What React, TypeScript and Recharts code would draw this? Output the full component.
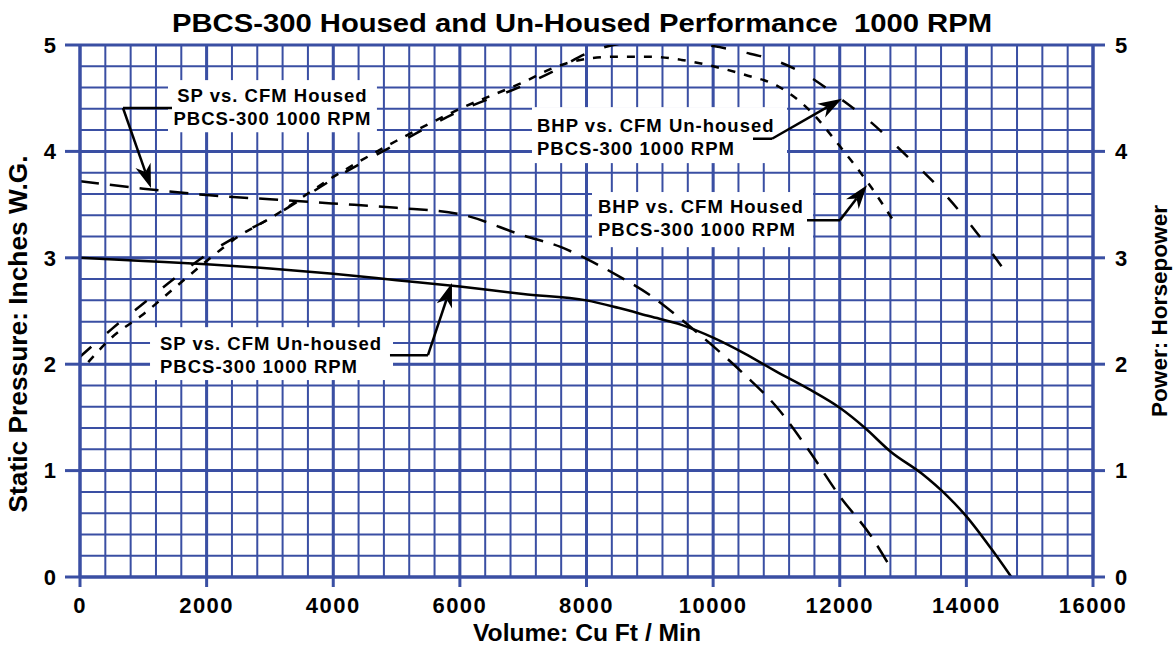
import React from 'react';
import { LineChart, Line, XAxis, YAxis, CartesianGrid, ReferenceArea, ReferenceLine } from 'recharts';

const BLUE = '#3a4fa3';
const FONT = '"Liberation Sans", Arial, Helvetica, sans-serif';

// Tick values
const xTicks = [0, 2000, 4000, 6000, 8000, 10000, 12000, 14000, 16000];
const yTicks = [0, 1, 2, 3, 4, 5];
const xMinor = [0, 400, 800, 1200, 1600, 2000, 2400, 2800, 3200, 3600, 4000, 4400, 4800, 5200, 5600, 6000, 6400, 6800, 7200, 7600, 8000, 8400, 8800, 9200, 9600, 10000, 10400, 10800, 11200, 11600, 12000, 12400, 12800, 13200, 13600, 14000, 14400, 14800, 15200, 15600, 16000];
const yMinor = [0, 0.2, 0.4, 0.6, 0.8, 1, 1.2, 1.4, 1.6, 1.8, 2, 2.2, 2.4, 2.6, 2.8, 3, 3.2, 3.4, 3.6, 3.8, 4, 4.2, 4.4, 4.6, 4.8, 5];

// SP vs CFM Un-housed (solid)
const spUnhoused = [
  { x: 0, y: 3.0 }, { x: 1000, y: 2.97 }, { x: 2000, y: 2.94 }, { x: 3000, y: 2.9 },
  { x: 4000, y: 2.85 }, { x: 5000, y: 2.79 }, { x: 6000, y: 2.73 }, { x: 7000, y: 2.66 },
  { x: 8000, y: 2.6 }, { x: 8500, y: 2.53 }, { x: 9000, y: 2.45 }, { x: 9500, y: 2.37 },
  { x: 10000, y: 2.25 }, { x: 10500, y: 2.1 }, { x: 11000, y: 1.93 }, { x: 11500, y: 1.77 },
  { x: 12000, y: 1.59 }, { x: 12400, y: 1.4 }, { x: 12800, y: 1.18 }, { x: 13300, y: 0.97 },
  { x: 13700, y: 0.76 }, { x: 14000, y: 0.57 }, { x: 14400, y: 0.26 }, { x: 14710, y: 0 },
];

// SP vs CFM Housed (long dash)
const spHoused = [
  { x: 0, y: 3.72 }, { x: 1000, y: 3.65 }, { x: 2000, y: 3.59 }, { x: 3000, y: 3.55 },
  { x: 4000, y: 3.51 }, { x: 5000, y: 3.47 }, { x: 6000, y: 3.41 }, { x: 7000, y: 3.21 },
  { x: 7600, y: 3.1 }, { x: 8000, y: 2.99 }, { x: 8500, y: 2.83 }, { x: 9000, y: 2.65 },
  { x: 9500, y: 2.42 }, { x: 10000, y: 2.17 }, { x: 10500, y: 1.9 }, { x: 11000, y: 1.6 },
  { x: 11500, y: 1.2 }, { x: 12000, y: 0.76 }, { x: 12500, y: 0.38 }, { x: 12840, y: 0.05 },
];

// BHP vs CFM Un-housed (long dash)
const bhpUnhoused = [
  { x: 0, y: 2.07 }, { x: 500, y: 2.33 }, { x: 1000, y: 2.57 }, { x: 1500, y: 2.81 },
  { x: 2000, y: 3.03 }, { x: 2500, y: 3.21 }, { x: 3000, y: 3.37 }, { x: 4000, y: 3.74 },
  { x: 5000, y: 4.07 }, { x: 6000, y: 4.38 }, { x: 7000, y: 4.62 }, { x: 7500, y: 4.76 },
  { x: 8000, y: 4.92 }, { x: 8500, y: 5.01 }, { x: 9000, y: 5.04 }, { x: 9500, y: 5.03 },
  { x: 10000, y: 4.99 }, { x: 10500, y: 4.93 }, { x: 11000, y: 4.85 }, { x: 11500, y: 4.71 },
  { x: 12000, y: 4.5 }, { x: 12500, y: 4.27 }, { x: 13000, y: 3.99 }, { x: 13500, y: 3.7 },
  { x: 14000, y: 3.36 }, { x: 14580, y: 2.9 },
];

// BHP vs CFM Housed (short dash)
const bhpHoused = [
  { x: 130, y: 2.02 }, { x: 500, y: 2.25 }, { x: 1000, y: 2.47 }, { x: 1500, y: 2.72 },
  { x: 2000, y: 2.97 }, { x: 2500, y: 3.2 }, { x: 3000, y: 3.37 }, { x: 4000, y: 3.76 },
  { x: 5000, y: 4.1 }, { x: 6000, y: 4.4 }, { x: 7000, y: 4.65 }, { x: 7500, y: 4.79 },
  { x: 8000, y: 4.87 }, { x: 8500, y: 4.89 }, { x: 9000, y: 4.89 }, { x: 9500, y: 4.86 },
  { x: 10000, y: 4.8 }, { x: 10500, y: 4.72 }, { x: 11000, y: 4.62 }, { x: 11500, y: 4.4 },
  { x: 12000, y: 4.05 }, { x: 12500, y: 3.66 }, { x: 12900, y: 3.3 },
];

// Annotation boxes (data coordinates)
const boxes = [
  { x1: 1390, x2: 4690, y1: 4.18, y2: 4.67, lines: ['SP vs. CFM Housed', 'PBCS-300 1000 RPM'], anchor: 'middle', padX: 0, base: 22 },
  { x1: 7139, x2: 11167, y1: 3.89, y2: 4.416, lines: ['BHP vs. CFM Un-housed', 'PBCS-300 1000 RPM'], anchor: 'start', padX: 5, base: 25 },
  { x1: 8087, x2: 11578, y1: 3.1, y2: 3.618, lines: ['BHP vs. CFM Housed', 'PBCS-300 1000 RPM'], anchor: 'start', padX: 6, base: 21 },
  { x1: 1106, x2: 4944, y1: 1.851, y2: 2.348, lines: ['SP vs. CFM Un-housed', 'PBCS-300 1000 RPM'], anchor: 'start', padX: 10, base: 23 },
];

// Arrow leader lines (data coordinates)
const leaders = [
  [{ x: 1453, y: 4.408 }, { x: 679, y: 4.408 }],
  [{ x: 10630, y: 4.119 }, { x: 10930, y: 4.119 }],
  [{ x: 11483, y: 3.354 }, { x: 12004, y: 3.354 }],
  [{ x: 4896, y: 2.085 }, { x: 5496, y: 2.085 }],
];
const arrows = [
  [{ x: 679, y: 4.408 }, { x: 1121, y: 3.656 }],
  [{ x: 10930, y: 4.119 }, { x: 12035, y: 4.495 }],
  [{ x: 12004, y: 3.354 }, { x: 12430, y: 3.683 }],
  [{ x: 5496, y: 2.085 }, { x: 5875, y: 2.762 }],
];

const XTick = (p: any) => (
  <text x={p.x} y={p.y} dy="0.71em" textAnchor="middle" fontFamily={FONT} fontWeight={700} fontSize={22} fill="#000" letterSpacing={1.5}>
    {p.payload.value}
  </text>
);
const LTick = (p: any) => (
  <text x={p.x} y={p.y} dy="0.355em" textAnchor="end" fontFamily={FONT} fontWeight={700} fontSize={22} fill="#000">
    {p.payload.value}
  </text>
);
const RTick = (p: any) => (
  <text x={p.x} y={p.y} dy="0.355em" textAnchor="start" fontFamily={FONT} fontWeight={700} fontSize={22} fill="#000">
    {p.payload.value}
  </text>
);

const makeBox = (b: any) => (p: any) => {
  const tx = b.anchor === 'middle' ? p.x + p.width / 2 : p.x + b.padX;
  return (
    <g>
      <rect x={p.x} y={p.y} width={p.width} height={p.height} fill="#fff" />
      {b.lines.map((t: string, i: number) => (
        <text key={i} x={tx} y={p.y + b.base + i * 23} textAnchor={b.anchor} fontFamily={FONT} fontWeight={700} fontSize={18.5} letterSpacing={1} fill="#000">
          {t}
        </text>
      ))}
    </g>
  );
};

const plainLine = (p: any) => (
  <line x1={p.x1} y1={p.y1} x2={p.x2} y2={p.y2} stroke="#000" strokeWidth={2.5} />
);

const arrowLine = (p: any) => {
  const dx = p.x2 - p.x1;
  const dy = p.y2 - p.y1;
  const len = Math.sqrt(dx * dx + dy * dy) || 1;
  const ux = dx / len;
  const uy = dy / len;
  const L = 24;
  const W = 8;
  const N = 17;
  const bx = p.x2 - ux * L;
  const by = p.y2 - uy * L;
  const nx = p.x2 - ux * N;
  const ny = p.y2 - uy * N;
  const pts = [
    [p.x2, p.y2],
    [bx - uy * W, by + ux * W],
    [nx, ny],
    [bx + uy * W, by - ux * W],
  ].map((q) => q.join(',')).join(' ');
  return (
    <g>
      <line x1={p.x1} y1={p.y1} x2={nx} y2={ny} stroke="#000" strokeWidth={2.5} />
      <polygon points={pts} fill="#000" />
    </g>
  );
};

export default function App() {
  return (
    <div style={{ position: 'absolute', left: 0, top: 0, width: 1175, height: 648, background: '#fff' }}>
      <LineChart width={1175} height={648} margin={{ top: 45, right: 0, bottom: 0, left: 0 }}>
        <CartesianGrid yAxisId="left" stroke={BLUE} strokeWidth={2} verticalValues={xMinor} horizontalValues={yMinor} />
        <CartesianGrid yAxisId="left" stroke={BLUE} strokeWidth={3} verticalValues={xTicks} horizontalValues={yTicks} />
        <XAxis
          type="number"
          dataKey="x"
          domain={[0, 16000]}
          ticks={xTicks}
          interval={0}
          height={71}
          tickSize={10}
          tickMargin={10}
          axisLine={{ stroke: BLUE, strokeWidth: 3 }}
          tickLine={{ stroke: BLUE, strokeWidth: 3 }}
          tick={XTick}
          allowDataOverflow
          label={{
            content: () => (
              <text x={587} y={641} textAnchor="middle" fontFamily={FONT} fontWeight={700} fontSize={23} textLength={228} lengthAdjust="spacingAndGlyphs" fill="#000">
                Volume: Cu Ft / Min
              </text>
            ),
          }}
        />
        <YAxis
          yAxisId="left"
          orientation="left"
          domain={[0, 5]}
          ticks={yTicks}
          interval={0}
          width={80}
          tickSize={15}
          tickMargin={9}
          axisLine={{ stroke: BLUE, strokeWidth: 3 }}
          tickLine={{ stroke: BLUE, strokeWidth: 3 }}
          tick={LTick}
          allowDataOverflow
        />
        <YAxis
          yAxisId="right"
          orientation="right"
          domain={[0, 5]}
          ticks={yTicks}
          interval={0}
          width={82}
          tickSize={12}
          tickMargin={10}
          axisLine={{ stroke: BLUE, strokeWidth: 3 }}
          tickLine={{ stroke: BLUE, strokeWidth: 3 }}
          tick={RTick}
          allowDataOverflow
        />
        {boxes.map((b, i) => (
          <ReferenceArea key={'b' + i} yAxisId="left" x1={b.x1} x2={b.x2} y1={b.y1} y2={b.y2} shape={makeBox(b)} ifOverflow="visible" />
        ))}
        <Line yAxisId="left" data={spUnhoused} dataKey="y" type="monotone" stroke="#000" strokeWidth={2.5} dot={false} isAnimationActive={false} />
        <Line yAxisId="left" data={spHoused} dataKey="y" type="monotone" stroke="#000" strokeWidth={2.5} strokeDasharray="19 11" dot={false} isAnimationActive={false} />
        <Line yAxisId="right" data={bhpUnhoused} dataKey="y" type="monotone" stroke="#000" strokeWidth={2.5} strokeDasharray="15 21" dot={false} isAnimationActive={false} />
        <Line yAxisId="right" data={bhpHoused} dataKey="y" type="monotone" stroke="#000" strokeWidth={2.5} strokeDasharray="8 9" dot={false} isAnimationActive={false} />
        {leaders.map((s, i) => (
          <ReferenceLine key={'l' + i} yAxisId="left" segment={s} shape={plainLine} ifOverflow="visible" />
        ))}
        {arrows.map((s, i) => (
          <ReferenceLine key={'a' + i} yAxisId="left" segment={s} shape={arrowLine} ifOverflow="visible" />
        ))}
      </LineChart>
      <svg width={1175} height={648} style={{ position: 'absolute', left: 0, top: 0, pointerEvents: 'none' }}>
        <text x={582} y={32} textAnchor="middle" fontFamily={FONT} fontWeight={700} fontSize={26} textLength={820} lengthAdjust="spacingAndGlyphs" fill="#000" style={{ whiteSpace: 'pre' }}>
          {'PBCS-300 Housed and Un-Housed Performance  1000 RPM'}
        </text>
        <text x={27} y={334} transform="rotate(-90 27 334)" textAnchor="middle" fontFamily={FONT} fontWeight={700} fontSize={25} textLength={357} lengthAdjust="spacingAndGlyphs" fill="#000">
          Static Pressure: Inches W.G.
        </text>
        <text x={1167} y={311} transform="rotate(-90 1167 311)" textAnchor="middle" fontFamily={FONT} fontWeight={700} fontSize={22} textLength={212} lengthAdjust="spacingAndGlyphs" fill="#000">
          Power: Horsepower
        </text>
      </svg>
    </div>
  );
}
